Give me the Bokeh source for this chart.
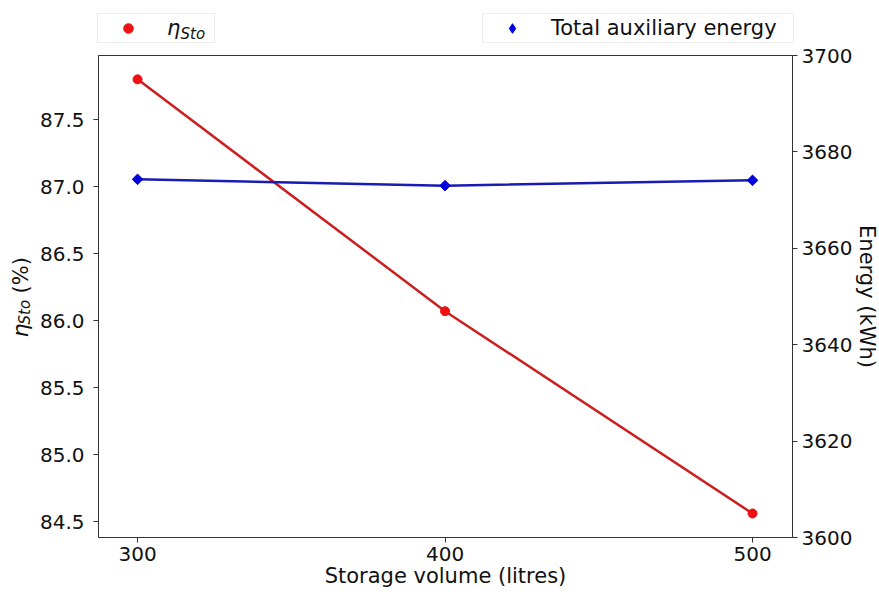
import math
from bokeh.plotting import figure
from bokeh.models import (Range1d, LinearAxis, Legend, LegendItem, Label, FixedTicker,
                          NumeralTickFormatter)
from bokeh.layouts import column, row
from bokeh.embed import file_html
from bokeh.resources import INLINE

volumes = [300, 400, 500]
eta_sto = [87.80, 86.07, 84.56]
aux_energy = [3674.3, 3673.0, 3674.1]
x_ticks = [300, 400, 500]
left_ticks = [84.5, 85.0, 85.5, 86.0, 86.5, 87.0, 87.5]
right_ticks = [3600, 3620, 3640, 3660, 3680, 3700]

FONT = "DejaVu Sans"
TXT = "#111111"
RED_LINE, RED_PT = "#cc1f1f", "#ee1111"
BLUE_LINE, BLUE_PT = "#1a1ab4", "#0000dd"

# ---------------- main plot ----------------
p = figure(frame_width=694, frame_height=482, output_backend="svg", toolbar_location=None,
           x_range=Range1d(287.3, 513.0), y_range=Range1d(84.381, 87.978),
           min_border_left=62, min_border_right=87, min_border_top=12, min_border_bottom=57)
p.extra_y_ranges = {"energy": Range1d(3600, 3700)}
p.grid.visible = False
p.outline_line_color = "#333333"
p.outline_line_width = 1

def style_axis(ax):
    ax.major_tick_in = 0
    ax.major_tick_out = 5
    ax.minor_tick_line_color = None
    ax.axis_line_color = "#333333"
    ax.major_tick_line_color = "#333333"
    ax.major_label_text_font = FONT
    ax.major_label_text_font_size = "20px"
    ax.major_label_text_color = TXT
    ax.axis_label_text_font = FONT
    ax.axis_label_text_font_size = "21px"
    ax.axis_label_text_font_style = "normal"
    ax.axis_label_text_color = TXT

p.xaxis.ticker = FixedTicker(ticks=x_ticks)
p.xaxis.axis_label = "Storage volume (litres)"
style_axis(p.xaxis[0])
p.xaxis.axis_label_standoff = 0
p.xaxis.major_label_standoff = 4

p.yaxis.ticker = FixedTicker(ticks=left_ticks)
p.yaxis.formatter = NumeralTickFormatter(format="0.0")
style_axis(p.yaxis[0])
p.yaxis.major_label_standoff = 9

right = LinearAxis(y_range_name="energy", ticker=FixedTicker(ticks=right_ticks),
                   axis_label="Energy (kWh)")
style_axis(right)
right.major_label_standoff = 4
right.axis_label_standoff = 0
right.axis_label_orientation = "vertical"
p.add_layout(right, "right")

p.line(volumes, eta_sto, line_color=RED_LINE, line_width=2.5)
p.scatter(volumes, eta_sto, marker="circle", size=9, fill_color=RED_PT, line_color=RED_PT)
p.line(volumes, aux_energy, line_color=BLUE_LINE, line_width=2.5, y_range_name="energy")
p.scatter(volumes, aux_energy, marker="square", angle=math.pi / 4, size=7.5,
          fill_color=BLUE_PT, line_color=BLUE_PT, y_range_name="energy")

# ---------------- legend strip (above the plot) ----------------
lf = figure(width=879, height=43, output_backend="svg", toolbar_location=None,
            x_range=Range1d(0, 879), y_range=Range1d(0, 43), min_border=0)
lf.axis.visible = False
lf.grid.visible = False
lf.outline_line_color = None
# legend-only renderers (their single point lies outside this strip's range)
r_eta = lf.scatter(x=[-100], y=[-100], marker="circle", size=9,
                   fill_color=RED_PT, line_color=RED_PT)
r_aux = lf.scatter(x=[-100], y=[-100], marker="diamond", size=10,
                   fill_color=BLUE_PT, line_color=BLUE_PT)

def make_legend(item, loc, glyph_w, standoff, label_w, italic=False):
    return Legend(items=[item], location=loc, orientation="vertical",
                  padding=2, margin=0, spacing=0,
                  glyph_width=glyph_w, glyph_height=24, label_height=22,
                  label_standoff=standoff, label_width=label_w,
                  label_text_font=FONT, label_text_font_size="21px",
                  label_text_font_style="italic" if italic else "normal",
                  label_text_color=TXT,
                  border_line_color="#d9d9d9", border_line_width=1,
                  background_fill_color="white", background_fill_alpha=0.0)

lf.add_layout(make_legend(LegendItem(label="η", renderers=[r_eta]), (97, 0), 56, 11, 45,
                          italic=True), "center")
lf.add_layout(make_legend(LegendItem(label="Total auxiliary energy", renderers=[r_aux]),
                          (482, 0), 54, 12, 240), "center")
lf.add_layout(Label(x=180, y=10, x_units="screen", y_units="screen", text="Sto",
                    text_font=FONT, text_font_size="15px", text_font_style="italic",
                    text_color=TXT, text_baseline="alphabetic", text_align="left"))

# ---------------- left axis title strip ----------------
yl = figure(width=36, height=551, output_backend="svg", toolbar_location=None,
            x_range=Range1d(0, 36), y_range=Range1d(0, 551), min_border=0)
yl.axis.visible = False
yl.grid.visible = False
yl.outline_line_color = None
bx, by = 20, 200
yl.add_layout(Label(x=bx, y=by, x_units="screen", y_units="screen", text="η",
                    angle=math.pi / 2, text_font=FONT, text_font_size="22px",
                    text_font_style="italic", text_color=TXT,
                    text_baseline="alphabetic", text_align="left"))
yl.add_layout(Label(x=bx + 4, y=by + 13, x_units="screen", y_units="screen", text="Sto",
                    angle=math.pi / 2, text_font=FONT, text_font_size="15px",
                    text_font_style="italic", text_color=TXT,
                    text_baseline="alphabetic", text_align="left"))
yl.add_layout(Label(x=bx, y=by + 44, x_units="screen", y_units="screen", text="(%)",
                    angle=math.pi / 2, text_font=FONT, text_font_size="21px",
                    text_color=TXT, text_baseline="alphabetic", text_align="left"))

layout = column(lf, row(yl, p, spacing=0), spacing=0)
open("out.html", "w").write(file_html(layout, INLINE))
